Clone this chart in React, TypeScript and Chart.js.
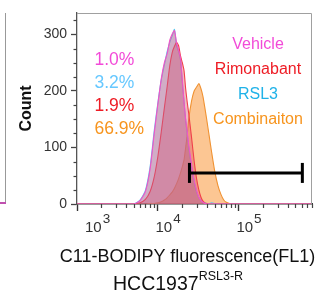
import React, { useEffect, useRef } from 'react';
import { Chart, registerables } from 'chart.js';

Chart.register(...registerables);

// ---- data ----
const fluorescence = [1000, 3000, 5000, 6000, 7000, 8000, 9000, 10000, 11000, 12000, 13000, 14000, 15000, 16000, 17000, 18000, 19000, 20000, 21000, 22000, 23000, 24000, 26000, 28000, 30000, 32000, 34000, 36000, 38000, 40000, 43000, 46000, 50000, 55000, 60000, 65000, 70000, 80000, 100000, 800000];
const vehicleCounts = [0, 0, 0, 6, 22, 62, 125, 178, 222, 250, 266, 290, 301, 307, 285, 272, 258, 220, 180, 150, 128, 105, 70, 42, 24, 12, 6, 3, 1, 0, 0, 0, 0, 0, 0, 0, 0, 0, 0, 0];
const rimonabantCounts = [0, 0, 0, 2, 8, 22, 48, 85, 128, 170, 208, 245, 268, 279, 286, 280, 262, 250, 236, 204, 180, 160, 118, 76, 45, 25, 12, 5, 2, 1, 0, 0, 0, 0, 0, 0, 0, 0, 0, 0];
const rsl3Counts = [0, 0, 0, 7, 24, 66, 130, 180, 220, 246, 270, 286, 298, 309, 280, 270, 255, 215, 182, 148, 125, 100, 66, 40, 22, 12, 6, 3, 2, 1, 1, 2, 1, 0, 0, 0, 0, 0, 0, 0];
const combinationCounts = [0, 0, 0, 0, 0, 1, 1, 2, 4, 7, 11, 16, 21, 28, 36, 45, 55, 66, 78, 100, 122, 150, 182, 200, 207, 213, 204, 190, 170, 150, 120, 92, 60, 33, 17, 7, 3, 0, 0, 0];
const seriesNames = ['Vehicle', 'Rimonabant', 'RSL3', 'Combinaiton'];
const gatePercents = ['1.0%', '3.2%', '1.9%', '66.9%'];
const gateRange = [24500, 608000];
const gateCount = 55;
const yTickValues = [0, 100, 200, 300];
const xDecades = [1000, 10000, 100000];
const xExponents = ['3', '4', '5'];

const FONT = '"Liberation Sans", Arial, Helvetica, sans-serif';
const lineColors = ['#f055c8', '#f0404a', '#5cc8ee', '#f09232'];
const fillColors = ['rgba(195,90,140,0.45)', 'rgba(220,80,100,0.40)', 'rgba(120,200,225,0.25)', 'rgba(250,160,75,0.60)'];
const legendColors = ['#f24ad8', '#ee1c25', '#1fb2e8', '#f7941d'];
const percentColors = ['#f24ad8', '#66c8ff', '#ee1c25', '#f7941d'];

const decorPlugin = {
  id: 'decor',
  afterDraw(chart: any) {
    const { ctx, chartArea: a, scales } = chart;
    const x = scales.x;
    const y = scales.y;
    ctx.save();
    // frame top/right
    ctx.strokeStyle = '#a0a0a0';
    ctx.lineWidth = 1;
    ctx.beginPath();
    ctx.moveTo(a.left, a.top + 0.5);
    ctx.lineTo(a.right - 0.5, a.top + 0.5);
    ctx.lineTo(a.right - 0.5, a.bottom);
    ctx.stroke();
    // minor ticks
    ctx.strokeStyle = '#444';
    ctx.lineWidth = 1.2;
    for (let v = 25; v < y.max; v += 25) {
      if (v % 100 === 0) continue;
      const py = Math.round(y.getPixelForValue(v)) + 0.5;
      ctx.beginPath();
      ctx.moveTo(a.left - 3.5, py);
      ctx.lineTo(a.left, py);
      ctx.stroke();
    }
    for (const d of xDecades) {
      for (let k = 2; k <= 9; k++) {
        const v = k * d;
        if (v > x.max) break;
        const px = Math.round(x.getPixelForValue(v)) + 0.5;
        ctx.beginPath();
        ctx.moveTo(px, a.bottom);
        ctx.lineTo(px, a.bottom + 4);
        ctx.stroke();
      }
    }
    // x tick labels 10^n
    ctx.fillStyle = '#333';
    ctx.textAlign = 'left';
    ctx.textBaseline = 'alphabetic';
    xDecades.forEach((d, i) => {
      const px = x.getPixelForValue(d);
      const left = Math.max(px - 2.5, a.left + 8);
      ctx.font = `15px ${FONT}`;
      ctx.fillText('10', left, a.bottom + 27.7);
      const w = ctx.measureText('10').width;
      ctx.font = `13.5px ${FONT}`;
      ctx.fillText(xExponents[i], left + w + 1, a.bottom + 19);
    });
    // gate percentages
    ctx.font = `17.5px ${FONT}`;
    gatePercents.forEach((t, i) => {
      ctx.fillStyle = percentColors[i];
      ctx.fillText(t, a.left + 17.5, a.top + 51.8 + i * 23.1);
    });
    // legend
    ctx.font = `16px ${FONT}`;
    ctx.textAlign = 'center';
    seriesNames.forEach((t, i) => {
      ctx.fillStyle = legendColors[i];
      ctx.fillText(t, a.left + 181, a.top + 35.5 + i * 25);
    });
    ctx.restore();
  },
};

export default function App() {
  const ref = useRef<HTMLCanvasElement | null>(null);

  useEffect(() => {
    if (!ref.current) return;
    const seriesCounts = [vehicleCounts, rimonabantCounts, rsl3Counts, combinationCounts];
    const histDatasets = seriesNames.map((name, i) => ({
      type: 'line' as const,
      label: name,
      data: fluorescence.map((f, j) => ({ x: f, y: seriesCounts[i][j] })),
      borderColor: lineColors[i],
      backgroundColor: fillColors[i],
      borderWidth: 1.1,
      fill: 'origin',
      pointRadius: 0,
      tension: 0.2,
      order: i + 1,
    }));
    const gateDataset = {
      type: 'line' as const,
      label: 'gate',
      data: gateRange.map((g) => ({ x: g, y: gateCount })),
      borderColor: '#000',
      borderWidth: 3,
      fill: false,
      pointStyle: 'line',
      rotation: 90,
      pointRadius: 10,
      pointBorderWidth: 3,
      pointBorderColor: '#000',
      pointHoverRadius: 10,
      order: 0,
    };
    const chart = new Chart(ref.current, {
      type: 'line',
      data: { datasets: [gateDataset as any, ...histDatasets] },
      options: {
        responsive: false,
        animation: false,
        events: [],
        layout: { padding: { top: 12, right: 22, bottom: 0, left: 0 } },
        plugins: { legend: { display: false }, tooltip: { enabled: false } },
        scales: {
          x: {
            type: 'logarithmic',
            min: 1000,
            max: 800000,
            afterFit: (s: any) => { s.height = 90; },
            grid: {
              drawOnChartArea: false,
              drawTicks: true,
              tickLength: 7,
              tickWidth: 1.4,
              tickColor: (c: any) => {
                const v = c.tick ? c.tick.value : 0;
                return xDecades.includes(v) ? '#333' : 'rgba(0,0,0,0)';
              },
            },
            border: { display: true, color: '#333', width: 1.5 },
            ticks: { display: false },
          },
          y: {
            min: 0,
            max: 338,
            afterFit: (s: any) => { s.width = 77; },
            afterBuildTicks: (s: any) => { s.ticks = yTickValues.map((v) => ({ value: v })); },
            grid: { drawOnChartArea: false, drawTicks: true, tickLength: 6, tickColor: '#444', tickWidth: 1.3 },
            border: { display: true, color: '#555', width: 1.3 },
            ticks: { color: '#333', padding: 4, font: { size: 14, family: FONT } },
            title: {
              display: true,
              text: 'Count',
              color: '#111',
              font: { size: 16, weight: 'bold', family: FONT },
              padding: { top: 17.4, bottom: 0 },
            },
          },
        },
      },
      plugins: [decorPlugin],
    } as any);
    return () => chart.destroy();
  }, []);

  return (
    <div style={{ position: 'fixed', left: 0, top: 0, width: 334, height: 294, background: '#fff', overflow: 'hidden' }}>
      <div style={{ position: 'absolute', left: 0, top: 13, width: 5, height: 190, borderRight: '1px solid #999' }} />
      <div style={{ position: 'absolute', left: 0, top: 202, width: 6, height: 1.5, background: '#c050b0' }} />
      <canvas ref={ref} width={334} height={294} style={{ position: 'absolute', left: 0, top: 0, display: 'block' }} />
      <div style={{ position: 'absolute', left: 0, top: 246.5, width: 375, textAlign: 'center', fontFamily: FONT, fontSize: 18, lineHeight: '18px', color: '#111', whiteSpace: 'nowrap' }}>
        C11-BODIPY fluorescence(FL1)
      </div>
      <div style={{ position: 'absolute', left: 113, top: 273.5, fontFamily: FONT, fontSize: 19.5, lineHeight: '19.5px', color: '#111', whiteSpace: 'nowrap' }}>
        HCC1937<span style={{ position: 'relative', top: -9.5, fontSize: 12.5 }}>RSL3-R</span>
      </div>
    </div>
  );
}
